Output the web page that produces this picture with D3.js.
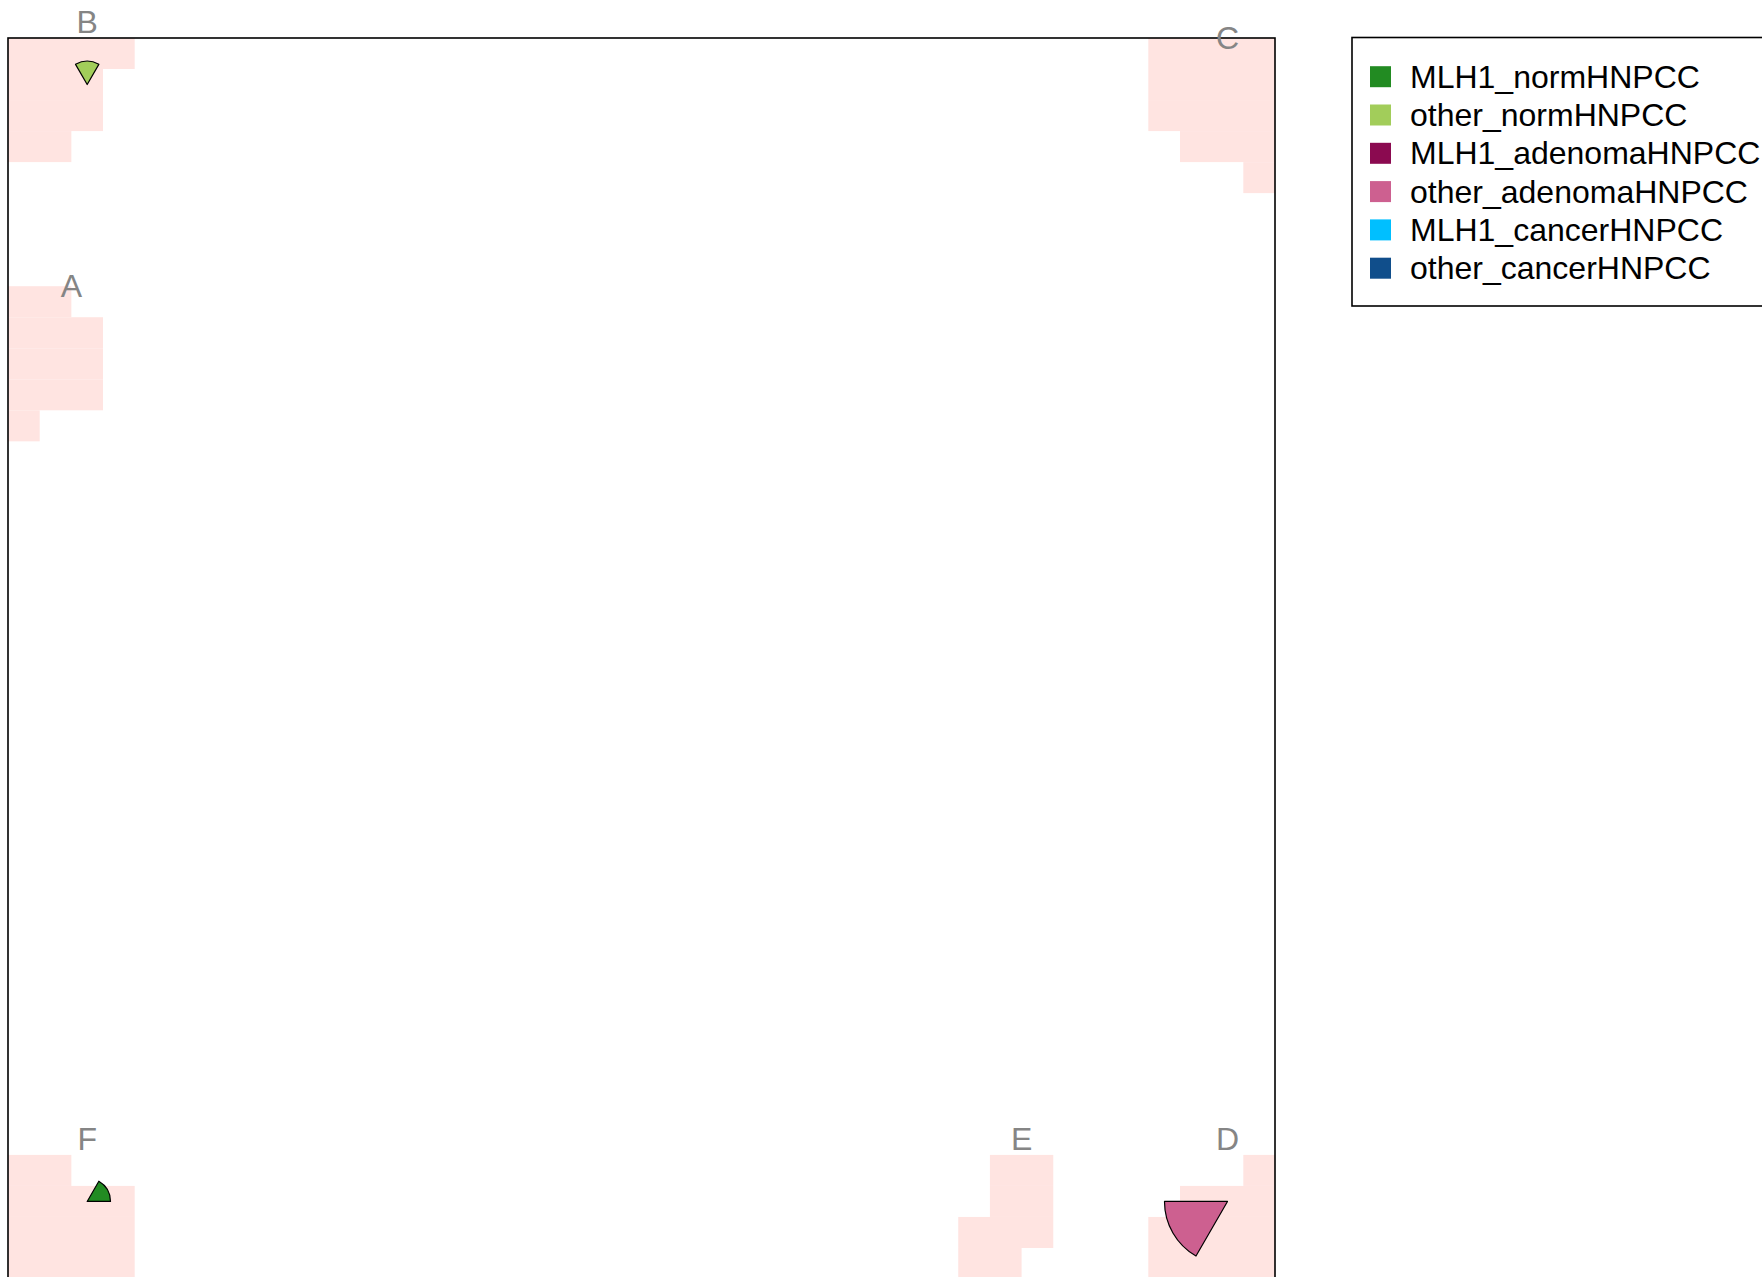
<!DOCTYPE html>
<html>
<head>
<meta charset="utf-8">
<script src="https://cdn.jsdelivr.net/npm/d3@7"></script>
<style>
  body { margin: 0; background: #fff; }
  svg { display: block; font-family: "Liberation Sans", Arial, sans-serif; }
</style>
</head>
<body>
<div id="chart"></div>
<script>
// grid size of the map (cols x rows)
var gridCols = 40, gridRows = 40;

// series (segments of each star, counter-clockwise from east)
var seriesNames = ["MLH1_normHNPCC", "other_normHNPCC", "MLH1_adenomaHNPCC",
                   "other_adenomaHNPCC", "MLH1_cancerHNPCC", "other_cancerHNPCC"];
var seriesColors = ["#228B22", "#A2CD5A", "#8B0A50", "#CD6090", "#00BFFF", "#104E8B"];

// nodes carrying a star plot
var nodeCol = [2, 2, 38];
var nodeRow = [1, 37, 37];
var nodeValues = [
  [0, 0.37, 0, 0, 0, 0],
  [0.37, 0, 0, 0, 0, 0],
  [0, 0, 0, 1, 0, 0]
];

// cluster labels (grid coordinates)
var labelText = ["A", "B", "C", "D", "E", "F"];
var labelX = [2.0, 2.5, 38.5, 38.5, 32.0, 2.5];
var labelY = [8.0, -0.5, 0.0, 35.5, 35.5, 35.5];

// highlighted cells as runs: [row, firstCol, lastCol]
var shadedRuns = [
  // B
  [0, 0, 3], [1, 0, 2], [2, 0, 2], [3, 0, 1],
  // A
  [8, 0, 1], [9, 0, 2], [10, 0, 2], [11, 0, 2], [12, 0, 0],
  // C
  [0, 36, 39], [1, 36, 39], [2, 36, 39], [3, 37, 39], [4, 39, 39],
  // F
  [36, 0, 1], [37, 0, 3], [38, 0, 3], [39, 0, 3],
  // E
  [36, 31, 32], [37, 31, 32], [38, 30, 32], [39, 30, 31],
  // D
  [36, 39, 39], [37, 37, 39], [38, 36, 39], [39, 36, 39]
];

var W = 1762, H = 1277;
var svg = d3.select("#chart").append("svg")
  .attr("width", W).attr("height", H);

var x = d3.scaleLinear().domain([0, gridCols]).range([8, 1275]);
var y = d3.scaleLinear().domain([0, gridRows]).range([38, 1279]);
var r = d3.scaleLinear().domain([0, 1]).range([0, 63]);

// shaded cells
svg.append("g").selectAll("rect")
  .data(shadedRuns)
  .enter().append("rect")
  .attr("x", function (d) { return x(d[1]); })
  .attr("y", function (d) { return y(d[0]); })
  .attr("width", function (d) { return x(d[2] + 1) - x(d[1]); })
  .attr("height", function (d) { return y(d[0] + 1) - y(d[0]); })
  .attr("fill", "#FFE4E1");

// star segments
var arc = d3.arc().innerRadius(0);
var step = 2 * Math.PI / seriesNames.length;
nodeValues.forEach(function (vals, n) {
  var cx = x(nodeCol[n] + 0.5), cy = y(nodeRow[n] + 0.5);
  var g = svg.append("g").attr("transform", "translate(" + cx + "," + cy + ")");
  vals.forEach(function (v, i) {
    if (v <= 0) return;
    // math angle a (ccw from east) -> d3 angle (cw from north) = pi/2 - a
    var a0 = i * step, a1 = (i + 1) * step;
    g.append("path")
      .attr("d", arc({ outerRadius: r(v), startAngle: Math.PI / 2 - a1, endAngle: Math.PI / 2 - a0 }))
      .attr("fill", seriesColors[i])
      .attr("stroke", "#000")
      .attr("stroke-width", 1.2)
      .attr("stroke-linejoin", "round");
  });
});

// frame
svg.append("rect")
  .attr("x", x(0)).attr("y", y(0))
  .attr("width", x(gridCols) - x(0)).attr("height", y(gridRows) - y(0))
  .attr("fill", "none").attr("stroke", "#000").attr("stroke-width", 1.6);

// labels
svg.append("g").selectAll("text")
  .data(labelText)
  .enter().append("text")
  .attr("x", function (d, i) { return x(labelX[i]); })
  .attr("y", function (d, i) { return y(labelY[i]); })
  .attr("text-anchor", "middle")
  .attr("dominant-baseline", "central")
  .attr("font-size", 32)
  .attr("fill", "#858585")
  .text(function (d) { return d; });

// legend
var legend = svg.append("g");
legend.append("rect")
  .attr("x", 1352).attr("y", 37.5)
  .attr("width", 460).attr("height", 268.5)
  .attr("fill", "#fff").attr("stroke", "#000").attr("stroke-width", 1.6);
var ly = d3.scaleLinear().domain([0, 1]).range([76.7, 115]);
seriesNames.forEach(function (name, i) {
  legend.append("rect")
    .attr("x", 1370).attr("y", ly(i) - 10.5)
    .attr("width", 21).attr("height", 21)
    .attr("fill", seriesColors[i]);
  legend.append("text")
    .attr("x", 1410).attr("y", ly(i))
    .attr("dominant-baseline", "central")
    .attr("font-size", 32)
    .attr("fill", "#000")
    .text(name);
});
</script>
</body>
</html>
